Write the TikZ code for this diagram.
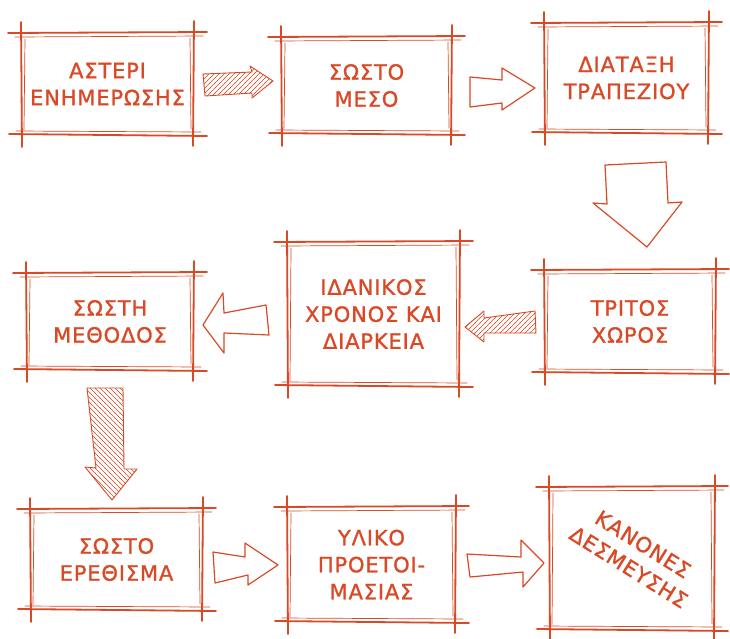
\documentclass[tikz,border=0pt]{standalone}
\usepackage{fontspec}
\setmainfont{DejaVu Sans}[FakeBold=1.2, LetterSpace=4]
\usetikzlibrary{calc,patterns}
\definecolor{orng}{RGB}{218,73,38}
\pgfdeclarepatternformonly{hatchne}{\pgfqpoint{-1pt}{-1pt}}{\pgfqpoint{6pt}{6pt}}{\pgfqpoint{5pt}{5pt}}{%
  \pgfsetlinewidth{0.55pt}\pgfpathmoveto{\pgfqpoint{-0.5pt}{-0.5pt}}\pgfpathlineto{\pgfqpoint{5.5pt}{5.5pt}}\pgfusepath{stroke}}
\pgfdeclarepatternformonly{hatchnw}{\pgfqpoint{-1pt}{-1pt}}{\pgfqpoint{6pt}{6pt}}{\pgfqpoint{5pt}{5pt}}{%
  \pgfsetlinewidth{0.55pt}\pgfpathmoveto{\pgfqpoint{-0.5pt}{5.5pt}}\pgfpathlineto{\pgfqpoint{5.5pt}{-0.5pt}}\pgfusepath{stroke}}
\tikzset{
  boxn/.style={draw=none, inner sep=0pt, outer sep=0pt, text=orng, align=center,
    font=\fontsize{21}{27}\selectfont},
  txt/.style={text=orng, align=center, inner sep=0pt, font=\fontsize{21}{27}\selectfont},
  skA/.style={draw=orng, line width=1.8pt, line cap=round},
  skB/.style={draw=orng, line width=0.7pt, line cap=round},
  whiteR/.style={draw=orng, fill=white, line width=1.2pt, line join=round},
  hatchR/.style={draw=orng, line width=0.9pt, line join=round, pattern=hatchne, pattern color=orng},
  hatchD/.style={draw=orng, line width=0.9pt, line join=round, pattern=hatchnw, pattern color=orng},
}
\newcommand\mkbox[6]{%
  \node[boxn, minimum width={(#4-#2)*1pt}, minimum height={(#5-#3)*1pt}] (#1) at ({(#2+#4)/2},{(#3+#5)/2}) {#6};
  \draw[skA] ($(#1.north west)+(-13,0)$) -- ($(#1.north east)+(13,-1)$);
  \draw[skB] ($(#1.north west)+(-6,4)$) -- ($(#1.north east)+(9,3)$);
  \draw[skA] ($(#1.south west)+(-12,-1)$) -- ($(#1.south east)+(13,1)$);
  \draw[skB] ($(#1.south west)+(-5,-4)$) -- ($(#1.south east)+(7,-3)$);
  \draw[skA] ($(#1.north west)+(0,-11)$) -- ($(#1.south west)+(1,12)$);
  \draw[skB] ($(#1.north west)+(4,6)$) -- ($(#1.south west)+(3,-5)$);
  \draw[skA] ($(#1.north east)+(0,-12)$) -- ($(#1.south east)+(-1,11)$);
  \draw[skB] ($(#1.north east)+(-4,5)$) -- ($(#1.south east)+(-3,-6)$);
}
\begin{document}
\begin{tikzpicture}[x=1pt,y=-1pt]
\useasboundingbox[fill=white] (0,0) rectangle (730,638);
\mkbox{b1}{21}{33}{194}{135}{ΑΣΤΕΡΙ\\ΕΝΗΜΕΡΩΣΗΣ}
\mkbox{b2}{281}{37}{452}{134}{ΣΩΣΤΟ\\ΜΕΣΟ}
\mkbox{b3}{544}{23}{709}{133}{ΔΙΑΤΑΞΗ\\ΤΡΑΠΕΖΙΟΥ}
\mkbox{b4}{544}{270}{716}{373}{ΤΡΙΤΟΣ\\ΧΩΡΟΣ}
\mkbox{b5}{287}{242}{460}{386}{ΙΔΑΝΙΚΟΣ\\ΧΡΟΝΟΣ ΚΑΙ\\ΔΙΑΡΚΕΙΑ}
\mkbox{b6}{26}{273}{194}{370}{ΣΩΣΤΗ\\ΜΕΘΟΔΟΣ}
\mkbox{b7}{30}{509}{203}{610}{ΣΩΣΤΟ\\ΕΡΕΘΙΣΜΑ}
\mkbox{b8}{287}{507}{456}{622}{ΥΛΙΚΟ\\ΠΡΟΕΤΟΙ-\\ΜΑΣΙΑΣ}
\mkbox{b9}{549}{487}{715}{630}{}
\node[txt, rotate=-32] (t9) at ($(b9.center)+(4,-3)$) {ΚΑΝΟΝΕΣ\\ΔΕΣΜΕΥΣΗΣ};
% arrows
\coordinate (a1) at (203,74);
\draw[hatchR, shift={(a1)}] (0,0) -- (49,-2) -- (47,-8) -- (70,7) -- (49,24) -- (49,19) -- (2,22) -- cycle;
\coordinate (a2) at (470,77);
\draw[whiteR, shift={(a2)}] (0,0) -- (32,3) -- (32,-9) -- (65,11) -- (32,33) -- (32,26) -- (0,30) -- cycle;
\coordinate (a3) at (605,165);
\draw[whiteR, shift={(a3)}] (0,0) -- (61,-3) -- (63,38) -- (77,37) -- (42,82) -- (-12,38) -- (2,39) -- cycle;
\coordinate (a4) at (465,327);
\draw[hatchR, shift={(a4)}] (0,0) -- (19,-16) -- (19,-9) -- (70,-16) -- (71,6) -- (19,6) -- (19,15) -- cycle;
\coordinate (a5) at (203,325);
\draw[whiteR, shift={(a5)}] (0,0) -- (20,-32) -- (21,-12) -- (63,-20) -- (66,10) -- (21,8) -- (21,28) -- cycle;
\coordinate (a6) at (87,388);
\draw[hatchD, shift={(a6)}] (0,0) -- (36,0) -- (37,81) -- (50,81) -- (25,112) -- (-2,79) -- (9,80) -- cycle;
\coordinate (a7) at (213,552);
\draw[whiteR, shift={(a7)}] (0,0) -- (32,5) -- (32,-9) -- (65,13) -- (35,33) -- (35,23) -- (2,31) -- cycle;
\coordinate (a8) at (467,554);
\draw[whiteR, shift={(a8)}] (0,0) -- (54,3) -- (54,-14) -- (77,9) -- (56,33) -- (56,18) -- (3,23) -- cycle;
\end{tikzpicture}
\end{document}
